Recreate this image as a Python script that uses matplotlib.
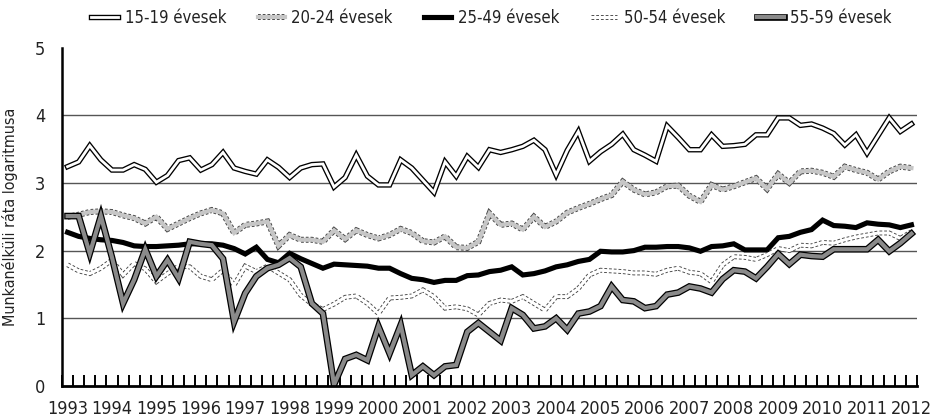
import numpy as np
import matplotlib
matplotlib.use("Agg")
import matplotlib.pyplot as plt
from matplotlib import font_manager
from matplotlib.lines import Line2D

# ---------------- data (quarterly, 1993Q1 - 2012Q1) ----------------
years = list(range(1993, 2013))
series_labels = ["15-19 évesek", "20-24 évesek", "25-49 évesek", "50-54 évesek", "55-59 évesek"]
ylabel_text = "Munkanélküli ráta logaritmusa"

s15_19 = [3.24, 3.31, 3.55, 3.34, 3.19, 3.19, 3.27, 3.20, 3.01, 3.11, 3.33, 3.37, 3.19, 3.27, 3.45, 3.22,
          3.17, 3.13, 3.34, 3.23, 3.08, 3.22, 3.27, 3.28, 2.94, 3.08, 3.41, 3.10, 2.97, 2.97, 3.34, 3.22,
          3.04, 2.86, 3.31, 3.10, 3.39, 3.23, 3.49, 3.45, 3.49, 3.54, 3.63, 3.49, 3.12, 3.48, 3.76, 3.32,
          3.46, 3.57, 3.72, 3.49, 3.41, 3.32, 3.84, 3.67, 3.49, 3.49, 3.71, 3.54, 3.55, 3.57, 3.71, 3.71,
          3.96, 3.96, 3.85, 3.87, 3.81, 3.73, 3.56, 3.71, 3.44, 3.70, 3.96, 3.76, 3.87]
s20_24 = [2.50, 2.53, 2.57, 2.58, 2.57, 2.52, 2.48, 2.40, 2.50, 2.32, 2.40, 2.48, 2.55, 2.60, 2.55, 2.26,
          2.38, 2.40, 2.43, 2.07, 2.23, 2.16, 2.16, 2.13, 2.30, 2.17, 2.30, 2.23, 2.18, 2.23, 2.32, 2.26,
          2.14, 2.12, 2.21, 2.05, 2.04, 2.13, 2.55, 2.38, 2.40, 2.31, 2.50, 2.35, 2.43, 2.56, 2.63, 2.69,
          2.76, 2.82, 3.02, 2.90, 2.83, 2.86, 2.95, 2.96, 2.81, 2.72, 2.97, 2.90, 2.95, 3.01, 3.07, 2.91,
          3.13, 3.00, 3.17, 3.18, 3.15, 3.09, 3.24, 3.19, 3.15, 3.05, 3.17, 3.24, 3.22]
s25_49 = [2.27, 2.21, 2.18, 2.16, 2.15, 2.12, 2.07, 2.06, 2.06, 2.07, 2.08, 2.10, 2.10, 2.10, 2.08, 2.03,
          1.95, 2.05, 1.87, 1.82, 1.96, 1.88, 1.81, 1.74, 1.80, 1.79, 1.78, 1.77, 1.74, 1.74, 1.66, 1.59,
          1.57, 1.53, 1.56, 1.56, 1.63, 1.64, 1.69, 1.71, 1.76, 1.64, 1.66, 1.70, 1.76, 1.79, 1.84, 1.87,
          1.99, 1.98, 1.98, 2.00, 2.05, 2.05, 2.06, 2.06, 2.04, 1.99, 2.06, 2.07, 2.10, 2.01, 2.01, 2.01,
          2.19, 2.21, 2.27, 2.31, 2.45, 2.37, 2.36, 2.34, 2.41, 2.39, 2.38, 2.34, 2.38]
s50_54 = [1.79, 1.70, 1.66, 1.74, 1.86, 1.64, 1.81, 1.73, 1.54, 1.66, 1.77, 1.76, 1.62, 1.57, 1.71, 1.49,
          1.77, 1.69, 1.77, 1.67, 1.57, 1.34, 1.21, 1.13, 1.21, 1.31, 1.33, 1.22, 1.07, 1.30, 1.31, 1.33,
          1.42, 1.32, 1.15, 1.17, 1.14, 1.05, 1.22, 1.27, 1.25, 1.32, 1.22, 1.12, 1.32, 1.32, 1.44, 1.64,
          1.71, 1.70, 1.69, 1.67, 1.67, 1.65, 1.71, 1.74, 1.68, 1.66, 1.54, 1.79, 1.91, 1.90, 1.87, 1.94,
          2.03, 2.00, 2.08, 2.07, 2.12, 2.11, 2.16, 2.20, 2.23, 2.26, 2.26, 2.18, 2.28]
s55_59 = [2.51, 2.51, 1.96, 2.51, 1.90, 1.22, 1.57, 2.02, 1.62, 1.86, 1.59, 2.13, 2.10, 2.08, 1.88, 0.95,
          1.37, 1.62, 1.74, 1.79, 1.89, 1.76, 1.22, 1.07, 0.02, 0.40, 0.46, 0.38, 0.88, 0.48, 0.90, 0.16,
          0.29, 0.16, 0.29, 0.31, 0.80, 0.93, 0.80, 0.67, 1.15, 1.05, 0.85, 0.88, 1.00, 0.83, 1.07, 1.10,
          1.18, 1.47, 1.27, 1.25, 1.15, 1.18, 1.35, 1.38, 1.47, 1.44, 1.38, 1.58, 1.71, 1.69, 1.59, 1.76,
          1.95, 1.80, 1.94, 1.92, 1.91, 2.02, 2.02, 2.02, 2.02, 2.16, 1.99, 2.11, 2.25]

# ---------------- fonts: prefer a narrow / condensed face ----------------
narrow = None
for f in font_manager.fontManager.ttflist:
    fn = f.fname.lower()
    if ("narrow" in fn or "condensed" in fn) and "bold" not in fn and "italic" not in fn \
            and "oblique" not in fn and "light" not in fn and "semi" not in fn and "extra" not in fn:
        narrow = f
        if "liberation" in fn or "dejavusans" in fn.replace("-", "").replace("_", ""):
            break
if narrow is not None:
    plt.rcParams["font.family"] = [narrow.name, "DejaVu Sans"]
    plt.rcParams["font.stretch"] = narrow.stretch
    fs = 13 if "dejavu" in narrow.fname.lower() else 14
else:
    plt.rcParams["font.family"] = ["DejaVu Sans"]
    fs = 11
plt.rcParams["lines.scale_dashes"] = False

W, H = 933, 419
fig = plt.figure(figsize=(W / 100, H / 100), dpi=100)
ax = fig.add_axes([62 / W, 1 - 386 / H, 855 / W, 338.5 / H])

all_series = [s15_19, s20_24, s25_49, s50_54, s55_59]
dash = (2.0, 1.4)
styles = [
    [dict(color="black", lw=3.9), dict(color="white", lw=2.0)],
    [dict(color="#444444", lw=4.3, dashes=dash), dict(color="#c6c6c6", lw=3.0)],
    [dict(color="black", lw=3.7)],
    [dict(color="#444444", lw=3.5, dashes=dash), dict(color="white", lw=2.2)],
    [dict(color="black", lw=4.8), dict(color="#8a8a8a", lw=3.0)],
]

n = len(s15_19)
x = np.arange(n)
handles = []
z = 2
for vals, layers in zip(all_series, styles):
    hl = []
    for st in layers:
        ax.plot(x, vals, solid_joinstyle="miter", dash_joinstyle="miter",
                dash_capstyle="butt", zorder=z, **st)
        z += 0.1
        hl.append(Line2D([], [], solid_joinstyle="miter", **st))
    z += 1
    handles.append(tuple(hl))

# ---------------- axes ----------------
ax.set_xlim(-0.5, n - 0.5)
ax.set_ylim(0, 5)
ax.set_xticks(np.arange(n + 1) - 0.5)
ax.set_xticklabels([])
ax.tick_params(axis="x", which="major", direction="in", length=8, width=1.4, color="black")
ax.set_xticks(np.arange(0, n, 4), minor=True)
ax.set_xticklabels([str(y) for y in years], minor=True)
ax.tick_params(axis="x", which="minor", length=0, pad=10, labelsize=fs, colors="#222222")

yt = [0, 1, 2, 3, 4, 5]
ax.set_yticks(yt)
ax.set_yticklabels([str(v) for v in yt])
ax.tick_params(axis="y", length=0, pad=12, labelsize=fs, colors="#222222")
for v in yt[1:-1]:
    ax.axhline(v, color="#555555", lw=1.0, zorder=1)

for s in ["top", "right"]:
    ax.spines[s].set_visible(False)
ax.spines["left"].set_linewidth(1.8)
ax.spines["bottom"].set_linewidth(2.0)
ax.spines["left"].set_zorder(20)
ax.spines["bottom"].set_zorder(20)

ax.set_ylabel(ylabel_text, fontsize=fs - 1.5, color="#222222")
ax.yaxis.set_label_coords(-(62 - 18) / 855, 0.5)

fig.legend(handles, series_labels, loc="center", bbox_to_anchor=(0.527, 0.957), ncol=5,
           frameon=False, handlelength=1.6, handletextpad=0.4, columnspacing=1.9,
           fontsize=fs - 1, labelcolor="#222222")

fig.savefig("out.png", dpi=100)
